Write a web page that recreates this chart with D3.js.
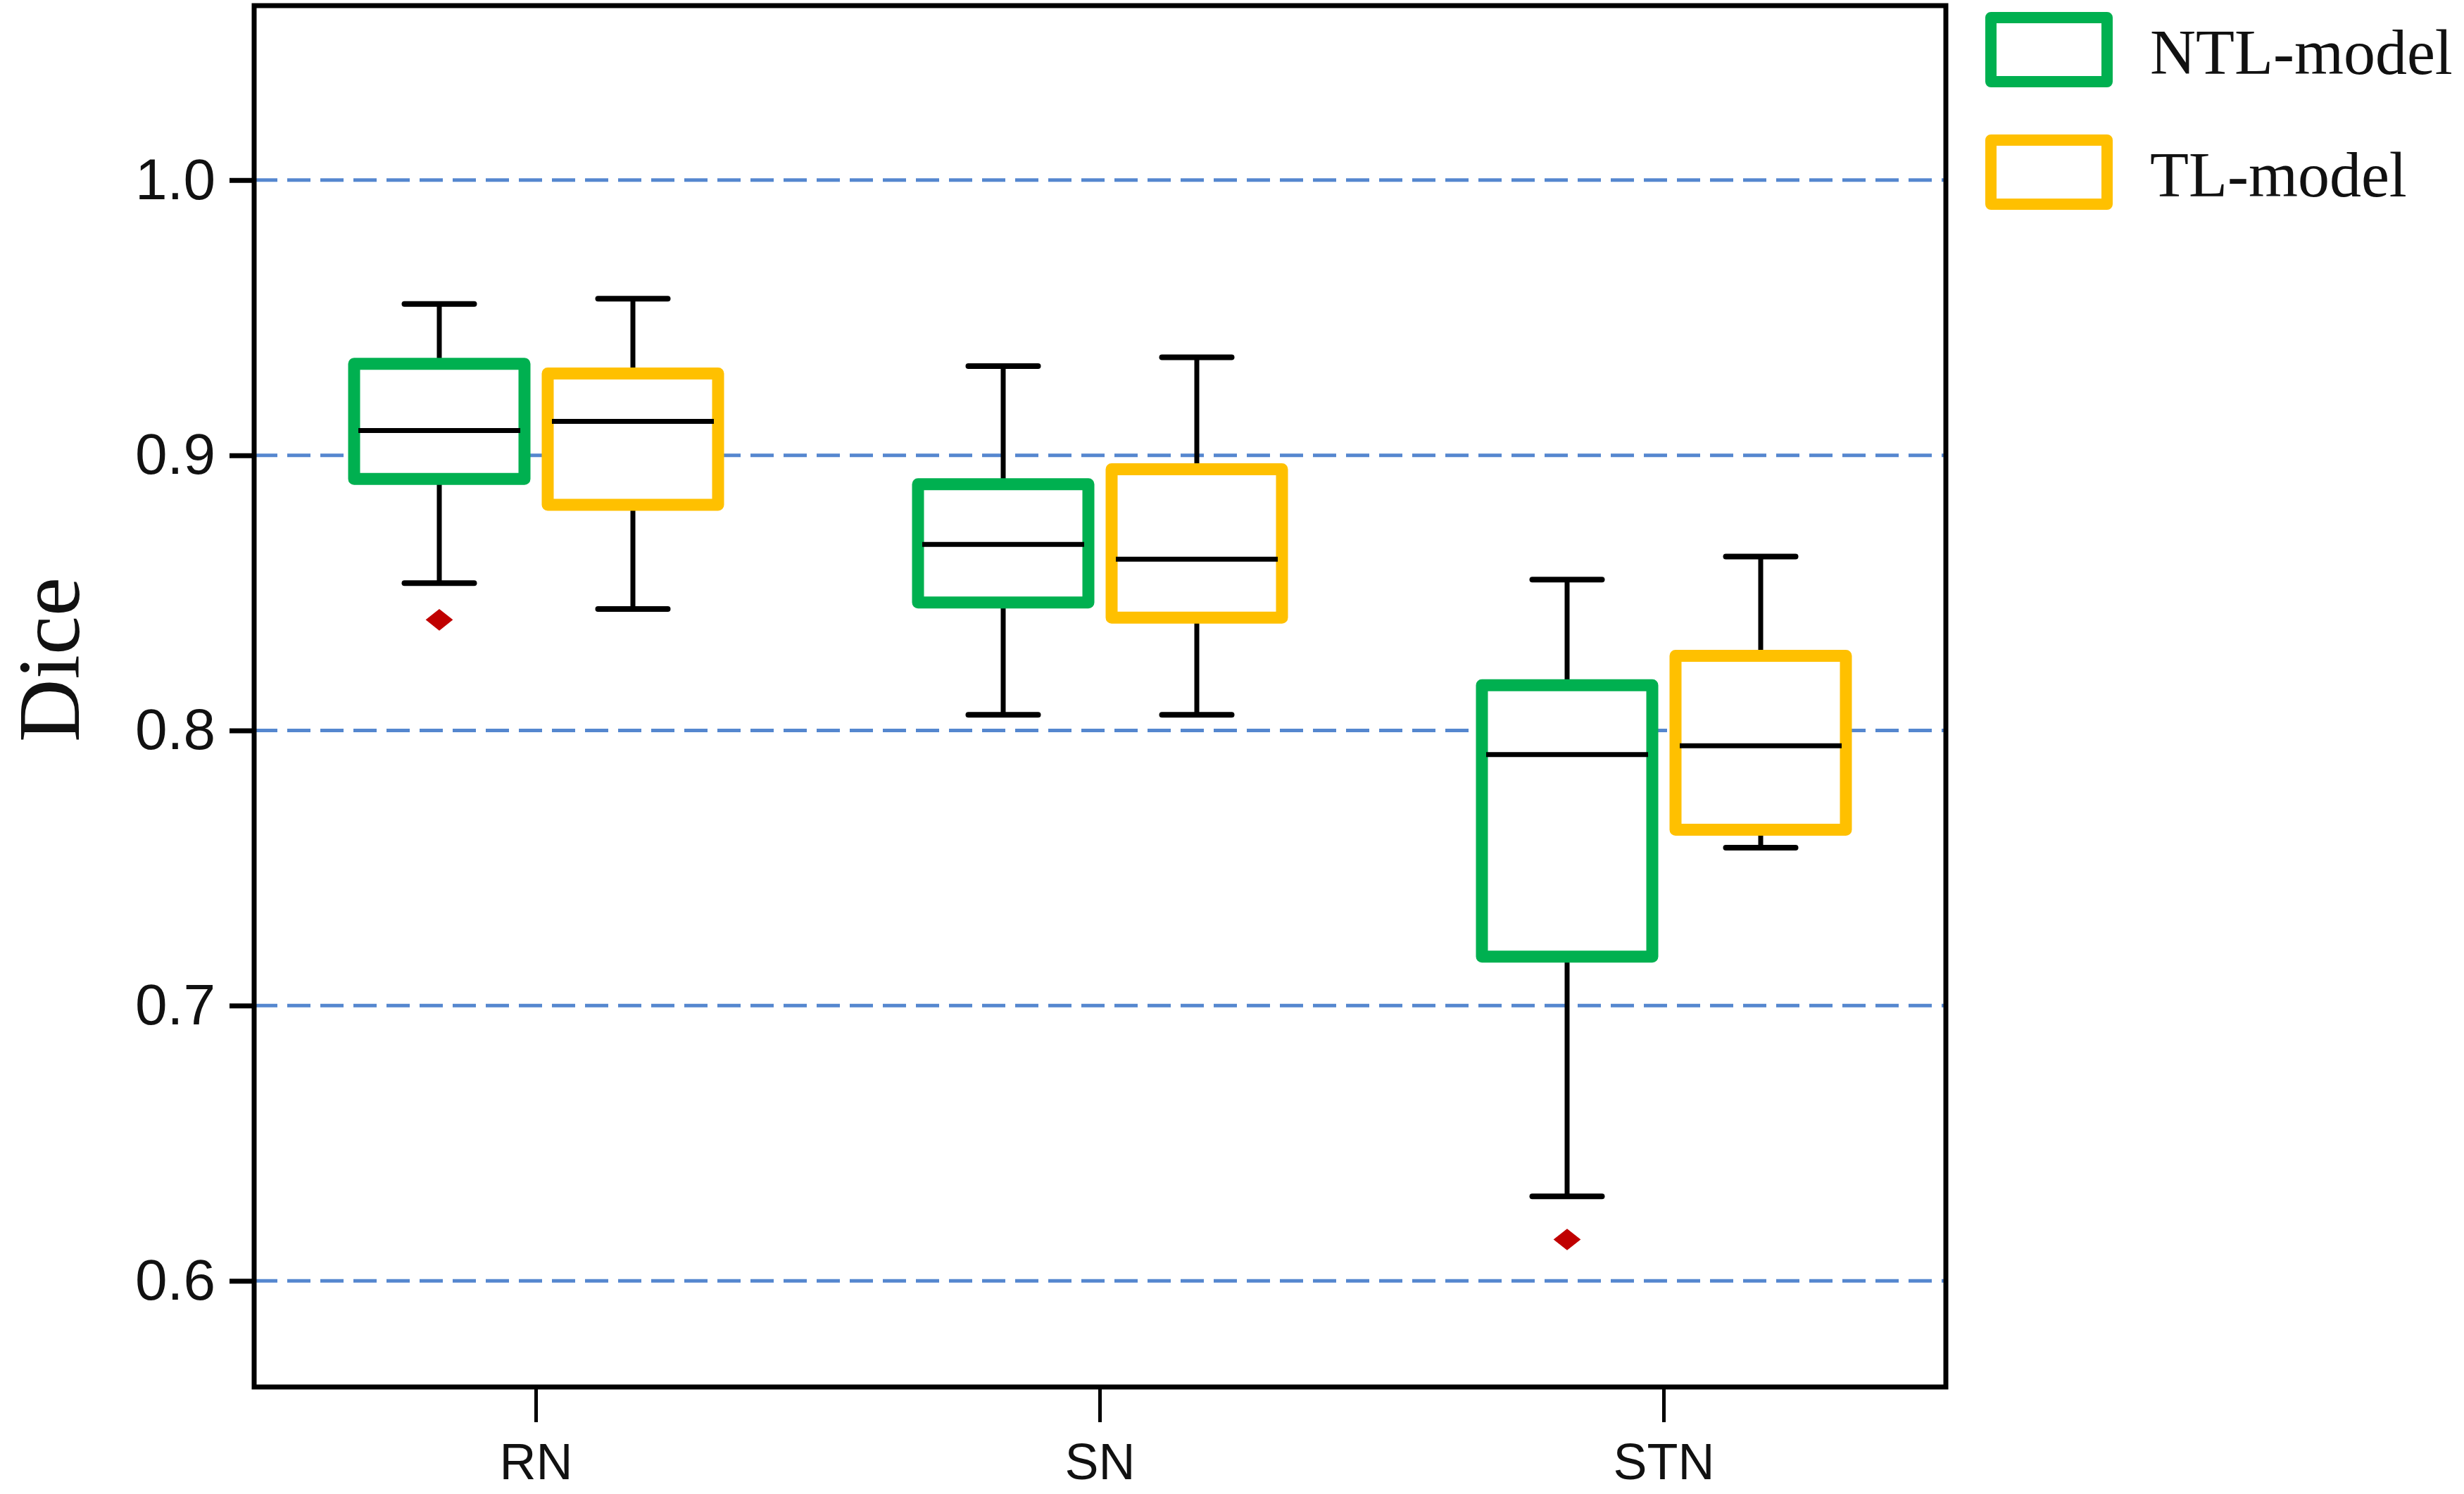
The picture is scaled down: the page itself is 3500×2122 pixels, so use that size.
<!DOCTYPE html>
<html>
<head>
<meta charset="utf-8">
<script src="https://cdn.jsdelivr.net/npm/d3@7"></script>
<style>
	body { margin: 0; background: #fff; }
</style>
</head>
<body>
<div id="chart"></div>
<script>

// data
const regions = ["RN", "SN", "STN"];
const models = ["NTL-model", "TL-model"];

// [lower whisker, q1, median, q3, upper whisker] per region
const ntlStats = [
	[0.8535, 0.8914, 0.9090, 0.9332, 0.9550],
	[0.8057, 0.8465, 0.8676, 0.8895, 0.9324],
	[0.6307, 0.7178, 0.7912, 0.8164, 0.8548]
];
const tlStats = [
	[0.8441, 0.8820, 0.9123, 0.9297, 0.9569],
	[0.8057, 0.8410, 0.8622, 0.8949, 0.9356],
	[0.7574, 0.7639, 0.7944, 0.8271, 0.8632]
];
const ntlOutliers = [[0.8402], [], [0.6150]];
const tlOutliers = [[], [], []];

const yTicks = [0.6, 0.7, 0.8, 0.9, 1.0];

const colorMap = new Map([
	["NTL-model", "#00b050"],
	["TL-model", "#ffc000"]
]);

const width = 3500;
const height = 2122;
const plot = {left: 361, right: 2764, top: 8, bottom: 1970};

const boxes = [];
regions.forEach((r, i) => {
	boxes.push({region: r, model: models[0], s: ntlStats[i], out: ntlOutliers[i]});
	boxes.push({region: r, model: models[1], s: tlStats[i], out: tlOutliers[i]});
});

const sx = d3.scaleBand()
	.domain(regions)
	.range([plot.left, plot.right])
	.padding(0);

const sub = d3.scaleBand()
	.domain(models)
	.range([-275, 275])
	.padding(0);

const sy = d3.scaleLinear()
	.domain([0.5614, 1.0634])
	.range([plot.bottom, plot.top]);

const boxW = sub.bandwidth() * 0.88;
const capW = sub.bandwidth() * 0.36;
const cx = d => sx(d.region) + sx.bandwidth() / 2 + sub(d.model) + sub.bandwidth() / 2;

const svg = d3.select("#chart")
	.append("svg")
	.attr("width", width)
	.attr("height", height)
	.style("font-family", "Lato, 'Open Sans', sans-serif");

// dashed grid
svg.append("g")
	.selectAll("line")
	.data(yTicks)
	.enter()
	.append("line")
	.attr("x1", plot.left)
	.attr("x2", plot.right)
	.attr("y1", d => sy(d))
	.attr("y2", d => sy(d))
	.attr("stroke", "#5587cf")
	.attr("stroke-width", 5)
	.attr("stroke-dasharray", "33,14");

// y axis
const yAxis = d3.axisLeft(sy)
	.tickValues(yTicks)
	.tickSize(35)
	.tickPadding(20)
	.tickFormat(d3.format(".1f"));

const gy = svg.append("g")
	.attr("transform", `translate(${plot.left},0)`)
	.call(yAxis);
gy.select(".domain").remove();
gy.selectAll(".tick line").attr("stroke", "#000").attr("stroke-width", 7);
gy.selectAll(".tick text")
	.attr("fill", "#111")
	.style("font-size", "82px");

// x axis
const xAxis = d3.axisBottom(sx)
	.tickSize(50)
	.tickPadding(30);

const gx = svg.append("g")
	.attr("transform", `translate(0,${plot.bottom})`)
	.call(xAxis);
gx.select(".domain").remove();
gx.selectAll(".tick line").attr("stroke", "#000").attr("stroke-width", 5);
gx.selectAll(".tick text")
	.attr("fill", "#111")
	.style("font-size", "72px");

// frame
svg.append("rect")
	.attr("x", plot.left)
	.attr("y", plot.top)
	.attr("width", plot.right - plot.left)
	.attr("height", plot.bottom - plot.top)
	.attr("fill", "none")
	.attr("stroke", "#000")
	.attr("stroke-width", 7);

// boxes
const g = svg.append("g")
	.selectAll(".box")
	.data(boxes)
	.enter()
	.append("g")
	.classed("box", true);

// whiskers
g.append("line")
	.attr("x1", cx).attr("x2", cx)
	.attr("y1", d => sy(d.s[0])).attr("y2", d => sy(d.s[1]))
	.attr("stroke", "#000").attr("stroke-width", 7);
g.append("line")
	.attr("x1", cx).attr("x2", cx)
	.attr("y1", d => sy(d.s[3])).attr("y2", d => sy(d.s[4]))
	.attr("stroke", "#000").attr("stroke-width", 7);
g.selectAll(".cap")
	.data(d => [d.s[0], d.s[4]].map(v => ({v: v, x: cx(d)})))
	.enter()
	.append("line")
	.classed("cap", true)
	.attr("x1", d => d.x - capW / 2)
	.attr("x2", d => d.x + capW / 2)
	.attr("y1", d => sy(d.v))
	.attr("y2", d => sy(d.v))
	.attr("stroke", "#000")
	.attr("stroke-width", 8)
	.attr("stroke-linecap", "round");

g.append("rect")
	.attr("x", d => cx(d) - boxW / 2)
	.attr("y", d => sy(d.s[3]))
	.attr("width", boxW)
	.attr("height", d => sy(d.s[1]) - sy(d.s[3]))
	.attr("fill", "#fff")
	.attr("stroke", d => colorMap.get(d.model))
	.attr("stroke-width", 17)
	.attr("stroke-linejoin", "round");

g.append("line")
	.attr("x1", d => cx(d) - boxW / 2 + 6)
	.attr("x2", d => cx(d) + boxW / 2 - 6)
	.attr("y1", d => sy(d.s[2]))
	.attr("y2", d => sy(d.s[2]))
	.attr("stroke", "#000")
	.attr("stroke-width", 7);

// outliers
const diamond = d3.symbol().type(d3.symbolSquare).size(520);
g.selectAll(".outlier")
	.data(d => d.out.map(v => ({v: v, x: cx(d)})))
	.enter()
	.append("path")
	.classed("outlier", true)
	.attr("d", diamond)
	.attr("transform", d => `translate(${d.x},${sy(d.v)}) scale(1.2,0.95) rotate(45)`)
	.attr("fill", "#c00000");

// y label
svg.append("text")
	.attr("transform", "translate(112,937) rotate(-90)")
	.attr("text-anchor", "middle")
	.style("font-family", "'Liberation Serif', 'Times New Roman', serif")
	.style("font-size", "124px")
	.attr("fill", "#111")
	.text("Dice");

// legend
const legend = svg.append("g")
	.selectAll(".legend")
	.data(models)
	.enter()
	.append("g")
	.classed("legend", true)
	.attr("transform", (d, i) => `translate(2828,${25 + i * 174})`);

legend.append("rect")
	.attr("width", 165)
	.attr("height", 91)
	.attr("fill", "#fff")
	.attr("stroke", d => colorMap.get(d))
	.attr("stroke-width", 16)
	.attr("stroke-linejoin", "round");

legend.append("text")
	.attr("x", 226)
	.attr("y", 80)
	.style("font-family", "'Liberation Serif', 'Times New Roman', serif")
	.style("font-size", "90px")
	.attr("fill", "#111")
	.text(d => d);

</script>
</body>
</html>
